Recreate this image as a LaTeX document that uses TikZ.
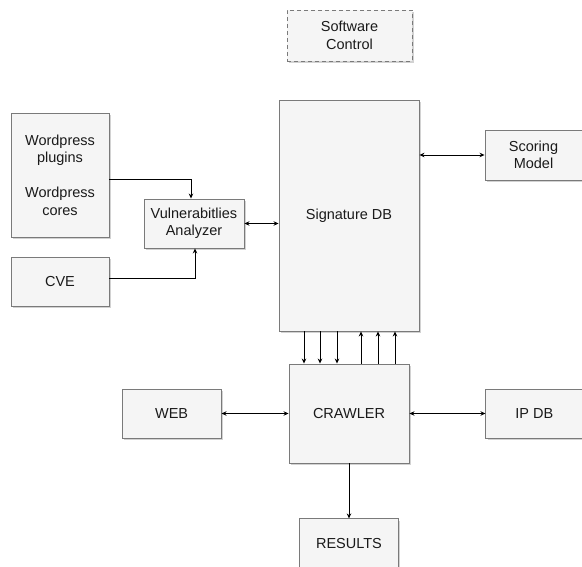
\documentclass[tikz,border=0pt]{standalone}
\usepackage{fontspec}
\setmainfont{Liberation Sans}
\usepackage{tikz}
\usetikzlibrary{positioning}
\usetikzlibrary{arrows.meta}
\usetikzlibrary{shadows}
\definecolor{boxfill}{HTML}{F5F5F5}
\definecolor{boxline}{HTML}{7A7A7A}
\definecolor{boxtext}{HTML}{1A1A1A}

\begin{document}
\begin{tikzpicture}
		[
			x = 1pt, y = -1pt,
			block/.style = {rectangle, fill = boxfill, draw = boxline, line width = 0.9pt, text = boxtext, align = center, inner sep = 0pt, font = \fontsize{14.5}{17.5}\selectfont, drop shadow = {shadow xshift = 1.6pt, shadow yshift = -1.6pt, fill = black!35}},
			smallblock/.style = {block, minimum width = 99pt, minimum height = 49pt},
			dashedblock/.style = {block, dashed, dash pattern = on 4pt off 3pt},
			arrow/.style = {line width = 0.9pt, -{Stealth[length = 5pt, width = 4.5pt]}},
			biarrow/.style = {line width = 0.9pt, {Stealth[length = 5pt, width = 4.5pt]}-{Stealth[length = 5pt, width = 4.5pt]}},
		]
			\useasboundingbox (0,0) rectangle (582,567);
			%
			\node (softctl) [dashedblock, minimum width = 125pt, minimum height = 51pt] at (349.5,35.5) {Software\\Control};
			\node (sigdb) [block, minimum width = 140pt, minimum height = 231pt] at (349,215.5) {Signature DB};
			\node (wordpress) [block, minimum width = 98pt, minimum height = 124pt] at (60,175) {Wordpress\\plugins\\[17.5pt]Wordpress\\cores};
			\node (analyzer) [smallblock, minimum width = 100pt] at (194,223.5) {Vulnerabitlies\\Analyzer};
			\node (cve) [smallblock, minimum width = 98pt] at (60,281.5) {CVE};
			\node (scoring) [smallblock, minimum width = 97pt, minimum height = 50pt] at (533.5,155) {Scoring\\Model};
			%
			\node (crawler) [block, minimum width = 120pt, minimum height = 99pt] at (349,413.5) {CRAWLER};
			\node (web) [smallblock, left = 67pt of crawler] {WEB};
			\node (ipdb) [smallblock, minimum width = 97pt, right = 76pt of crawler] {IP DB};
			\node (results) [smallblock, below = 55pt of crawler] {RESULTS};
			%
			\draw [arrow] ([yshift = -4pt]wordpress.east) -| ([xshift = -3pt]analyzer.north);
			\draw [arrow] ([yshift = 3.5pt]cve.east) -| ([xshift = 1pt]analyzer.south);
			\draw [biarrow] (analyzer.east) -- (analyzer.east -| sigdb.west);
			\draw [biarrow] (sigdb.east |- scoring.west) -- (scoring.west);
			%
			\foreach \dx in {-45,-29,-12}
				\draw [arrow] ([xshift = \dx pt]sigdb.south) -- ([xshift = \dx pt]crawler.north);
			\foreach \dx in {12,29,46}
				\draw [arrow] ([xshift = \dx pt]crawler.north) -- ([xshift = \dx pt]sigdb.south);
			%
			\draw [biarrow] (web.east) -- (crawler.west);
			\draw [biarrow] (crawler.east) -- (ipdb.west);
			\draw [arrow] (crawler.south) -- (results.north);
			%
		\end{tikzpicture}
\end{document}
